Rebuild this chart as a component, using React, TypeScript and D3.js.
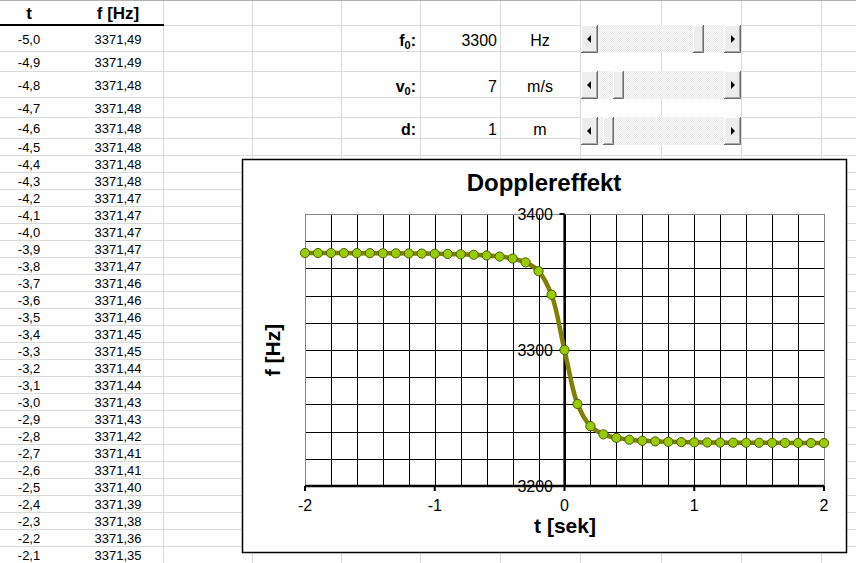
import React from "react";
import * as d3 from "d3";

// ---------- data ----------
const tableT = ["-5,0","-4,9","-4,8","-4,7","-4,6","-4,5","-4,4","-4,3","-4,2","-4,1","-4,0","-3,9","-3,8","-3,7","-3,6","-3,5","-3,4","-3,3","-3,2","-3,1","-3,0","-2,9","-2,8","-2,7","-2,6","-2,5","-2,4","-2,3","-2,2","-2,1"];
const tableF = ["3371,49","3371,49","3371,48","3371,48","3371,48","3371,48","3371,48","3371,48","3371,47","3371,47","3371,47","3371,47","3371,47","3371,46","3371,46","3371,46","3371,45","3371,45","3371,44","3371,44","3371,43","3371,43","3371,42","3371,41","3371,41","3371,40","3371,39","3371,38","3371,36","3371,35"];

const chartT = [-2,-1.9,-1.8,-1.7,-1.6,-1.5,-1.4,-1.3,-1.2,-1.1,-1,-0.9,-0.8,-0.7,-0.6,-0.5,-0.4,-0.3,-0.2,-0.1,0,0.1,0.2,0.3,0.4,0.5,0.6,0.7,0.8,0.9,1,1.1,1.2,1.3,1.4,1.5,1.6,1.7,1.8,1.9,2];
const chartF = [3371.33,3371.31,3371.29,3371.26,3371.23,3371.19,3371.14,3371.08,3371.01,3370.91,3370.79,3370.62,3370.39,3370.05,3369.54,3368.72,3367.27,3364.43,3357.96,3340.64,3300,3260.34,3244.0,3237.99,3235.37,3234.04,3233.28,3232.81,3232.5,3232.28,3232.13,3232.01,3231.92,3231.86,3231.8,3231.76,3231.72,3231.69,3231.66,3231.64,3231.62];

const xTicks = [-2, -1, 0, 1, 2];
const yTicks = [3200, 3300, 3400];

const controlNames = ["f", "v", "d"];
const controlSubs = ["0", "0", ""];
const controlValues = ["3300", "7", "1"];
const controlUnits = ["Hz", "m/s", "m"];
const controlSlider = [0.826, 0.13, 0.043];

const chartTitle = "Dopplereffekt";
const xTitle = "t [sek]";
const yTitle = "f [Hz]";
const headT = "t";
const headF = "f [Hz]";

// ---------- layout ----------
const W = 856, H = 563;
const FONT = "'Liberation Sans', Arial, sans-serif";
const colLines = [163, 252, 341, 420, 500, 580, 661, 741, 821];
const rowLines: number[] = [0, 25, 51, 71, 97, 117, 138, 155];
for (let y = 172; y <= H; y += 17) rowLines.push(y);

const box = { x: 242.5, y: 159.5, w: 604, h: 393 };
const plot = { l: 305, r: 824, t: 214, b: 486 };

function Button3D({ x, y, w, h, dir }: { x: number; y: number; w: number; h: number; dir?: string }) {
  const cx = x + w / 2, cy = y + h / 2;
  let tri = null;
  if (dir === "left") tri = <path d={`M${cx - 2.5},${cy}L${cx + 1.5},${cy - 4}L${cx + 1.5},${cy + 4}Z`} fill="#000" />;
  if (dir === "right") tri = <path d={`M${cx + 2.5},${cy}L${cx - 1.5},${cy - 4}L${cx - 1.5},${cy + 4}Z`} fill="#000" />;
  return (
    <g>
      <rect x={x} y={y} width={w} height={h} fill="#ededed" />
      <path d={`M${x + 0.5},${y + h - 1}V${y + 0.5}H${x + w - 1}`} stroke="#ffffff" fill="none" />
      <path d={`M${x + w - 0.5},${y}V${y + h - 0.5}H${x}`} stroke="#6a6a6a" fill="none" />
      <path d={`M${x + w - 1.5},${y + 1}V${y + h - 1.5}H${x + 1}`} stroke="#a8a8a8" fill="none" />
      {tri}
    </g>
  );
}

function Scrollbar({ x, y, w, h, pos }: { x: number; y: number; w: number; h: number; pos: number }) {
  const bw = 17, tw = 11;
  const trackX = x + bw, trackW = w - 2 * bw;
  const thumbX = Math.round(trackX + pos * (trackW - tw));
  return (
    <g>
      <rect x={x} y={y} width={w} height={h} fill="url(#hatch)" />
      <Button3D x={x} y={y} w={bw} h={h} dir="left" />
      <Button3D x={x + w - bw} y={y} w={bw} h={h} dir="right" />
      <Button3D x={thumbX} y={y} w={tw} h={h} />
    </g>
  );
}

export default function App() {
  const xs = d3.scaleLinear().domain([-2, 2]).range([plot.l, plot.r]);
  const ys = d3.scaleLinear().domain([3200, 3400]).range([plot.b, plot.t]);
  const pts = chartT.map((t, i) => [xs(t), ys(chartF[i])] as [number, number]);
  const line = d3.line().curve(d3.curveCatmullRom.alpha(0.5))(pts) || "";
  const vGrid = d3.range(0, 21).map((i) => -2 + i * 0.2);
  const hGrid = d3.range(0, 11).map((i) => 3200 + i * 20);
  const x0 = xs(0);

  const rowTops = rowLines.slice(1, 1 + tableT.length);
  const rowBots = rowLines.slice(2, 2 + tableT.length);
  const ctrlRows = [[25, 51], [71, 97], [117, 138]];
  const ctrlTextY = [46, 91.5, 134.5];

  return (
    <div style={{ position: "fixed", left: 0, top: 0 }}>
      <svg width={W} height={H} style={{ display: "block", fontFamily: FONT }}>
        <defs>
          <pattern id="hatch" width="2" height="2" patternUnits="userSpaceOnUse">
            <rect width="2" height="2" fill="#fbfbfb" />
            <rect width="1" height="1" fill="#e8e8e8" />
            <rect x="1" y="1" width="1" height="1" fill="#e8e8e8" />
          </pattern>
        </defs>
        <rect width={W} height={H} fill="#fff" />
        {/* spreadsheet grid */}
        <g stroke="#dadada" strokeWidth={1}>
          {rowLines.map((y, i) => (
            <line key={"r" + i} x1={0} x2={W} y1={y + 0.5} y2={y + 0.5} />
          ))}
          {colLines.map((x, i) => (
            <line key={"c" + i} x1={x + 0.5} x2={x + 0.5} y1={0} y2={H} />
          ))}
        </g>
        <line x1={0} x2={W} y1={0.5} y2={0.5} stroke="#b0b0b0" />
        {/* table header */}
        <text x={29} y={19} textAnchor="middle" fontSize={17} fontWeight="bold">{headT}</text>
        <text x={118} y={19} textAnchor="middle" fontSize={17} fontWeight="bold">{headF}</text>
        <rect x={0} y={24} width={164} height={2} fill="#000" />
        {/* table rows */}
        {tableT.map((t, i) => {
          const cy = (rowTops[i] + rowBots[i]) / 2 + 5.5;
          return (
            <g key={"t" + i} fontSize={13}>
              <text x={29} y={cy} textAnchor="middle">{t}</text>
              <text x={118} y={cy} textAnchor="middle">{tableF[i]}</text>
            </g>
          );
        })}
        {/* controls */}
        {controlNames.map((n, i) => (
          <g key={"ctl" + i} fontSize={16}>
            <text x={416} y={ctrlTextY[i]} textAnchor="end" fontWeight="bold">
              {n}
              {controlSubs[i] ? <tspan fontSize={11} dy={3}>{controlSubs[i]}</tspan> : null}
              {controlSubs[i] ? <tspan dy={-3}>:</tspan> : <tspan>:</tspan>}
            </text>
            <text x={497} y={ctrlTextY[i]} textAnchor="end">{controlValues[i]}</text>
            <text x={540} y={ctrlTextY[i]} textAnchor="middle">{controlUnits[i]}</text>
            <Scrollbar x={581} y={ctrlRows[i][0]} w={160} h={28} pos={controlSlider[i]} />
          </g>
        ))}
        {/* chart */}
        <rect x={box.x} y={box.y} width={box.w} height={box.h} fill="#fff" stroke="#000" strokeWidth={1.5} />
        <text x={544} y={191} textAnchor="middle" fontSize={24} fontWeight="bold">{chartTitle}</text>
        <g stroke="#000" strokeWidth={1}>
          {vGrid.map((v, i) => (
            <line key={"vg" + i} x1={Math.round(xs(v)) + 0.5} x2={Math.round(xs(v)) + 0.5} y1={plot.t} y2={plot.b} />
          ))}
          {hGrid.map((v, i) => (
            <line key={"hg" + i} x1={plot.l} x2={plot.r} y1={Math.round(ys(v)) + 0.5} y2={Math.round(ys(v)) + 0.5} />
          ))}
        </g>
        <rect x={plot.l + 0.5} y={plot.t + 0.5} width={plot.r - plot.l} height={plot.b - plot.t} fill="none" stroke="#858585" />
        {/* y axis */}
        <line x1={x0} x2={x0} y1={plot.t} y2={plot.b} stroke="#000" strokeWidth={2.2} />
        {yTicks.map((v) => (
          <g key={"yt" + v}>
            <line x1={x0 - 5} x2={x0} y1={ys(v)} y2={ys(v)} stroke="#000" strokeWidth={2} />
            <text x={553} y={ys(v) + 5.5} textAnchor="end" fontSize={16}>{v}</text>
          </g>
        ))}
        {/* x axis */}
        <line x1={plot.l} x2={plot.r} y1={plot.b} y2={plot.b} stroke="#000" strokeWidth={2.5} />
        {xTicks.map((v) => (
          <g key={"xt" + v}>
            <line x1={xs(v)} x2={xs(v)} y1={plot.b} y2={plot.b + 5} stroke="#000" strokeWidth={2} />
            <text x={xs(v)} y={511} textAnchor="middle" fontSize={16}>{v}</text>
          </g>
        ))}
        <text x={565} y={533} textAnchor="middle" fontSize={21} fontWeight="bold">{xTitle}</text>
        <text transform={`translate(280,350) rotate(-90)`} textAnchor="middle" fontSize={21} fontWeight="bold">{yTitle}</text>
        {/* series */}
        <path d={line} fill="none" stroke="#7f7f00" strokeWidth={4.5} />
        {pts.map((p, i) => (
          <circle key={"m" + i} cx={p[0]} cy={p[1]} r={4.6} fill="#99cc00" stroke="#4a5e00" strokeWidth={1} />
        ))}
      </svg>
    </div>
  );
}
